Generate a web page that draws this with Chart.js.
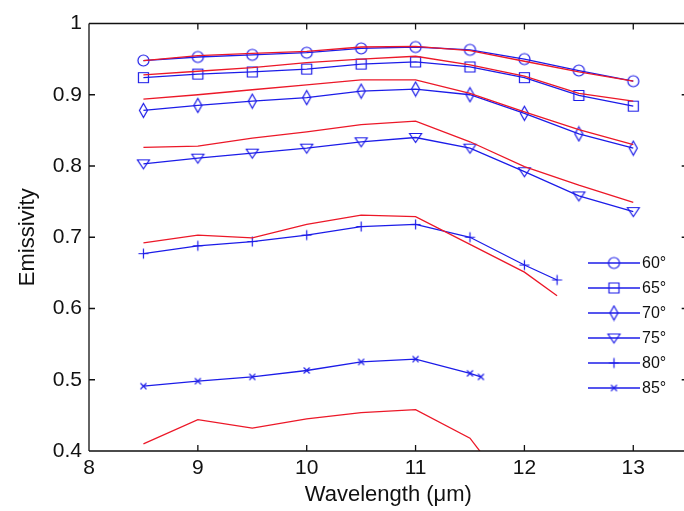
<!DOCTYPE html>
<html>
<head>
<meta charset="utf-8">
<script src="https://cdn.jsdelivr.net/npm/chart.js@4/dist/chart.umd.min.js"></script>
<style>
  html, body { margin: 0; padding: 0; background: #fff; overflow: hidden; }
  canvas { display: block; }
</style>
</head>
<body>
<canvas id="emissivityChart" width="694" height="511"></canvas>
<script>
// wavelengths (um) for each angle
const wavelengths = [8.5, 9, 9.5, 10, 10.5, 11, 11.5, 12, 12.5, 13];
const wavelengths80 = [8.5, 9, 9.5, 10, 10.5, 11, 11.5, 12, 12.3];
const wavelengths85 = [8.5, 9, 9.5, 10, 10.5, 11, 11.5, 11.6];

// blue series (with markers)
const measured60 = [0.948, 0.953, 0.956, 0.959, 0.965, 0.967, 0.963, 0.950, 0.934, 0.919];
const measured65 = [0.924, 0.929, 0.932, 0.936, 0.943, 0.946, 0.939, 0.924, 0.899, 0.884];
const measured70 = [0.878, 0.885, 0.891, 0.896, 0.905, 0.908, 0.900, 0.874, 0.845, 0.825];
const measured75 = [0.803, 0.811, 0.818, 0.825, 0.834, 0.840, 0.825, 0.792, 0.758, 0.736];
const measured80 = [0.677, 0.688, 0.694, 0.703, 0.715, 0.718, 0.700, 0.661, 0.640];
const measured85 = [0.491, 0.498, 0.504, 0.513, 0.525, 0.529, 0.509, 0.504];

// red series (plain lines)
const model60 = [0.948, 0.955, 0.958, 0.961, 0.967, 0.968, 0.962, 0.947, 0.932, 0.919];
const model65 = [0.928, 0.933, 0.938, 0.945, 0.950, 0.954, 0.942, 0.926, 0.902, 0.891];
const model70 = [0.894, 0.900, 0.907, 0.914, 0.921, 0.921, 0.902, 0.876, 0.851, 0.830];
const model75 = [0.826, 0.828, 0.839, 0.848, 0.858, 0.863, 0.834, 0.799, 0.773, 0.749];
const model80 = [0.692, 0.703, 0.699, 0.718, 0.731, 0.729, 0.690, 0.651, 0.618];
const model85 = [0.410, 0.444, 0.432, 0.445, 0.454, 0.458, 0.418, 0.398];

const angleLabels = ['60°', '65°', '70°', '75°', '80°', '85°'];
const xTicks = [8, 9, 10, 11, 12, 13];
const yTicks = [0.4, 0.5, 0.6, 0.7, 0.8, 0.9, 1];

const BLUE = 'rgb(28,28,232)';
const RED = 'rgb(236,24,40)';

// matlab style markers, drawn once into small canvases
function makeMarker(kind) {
    var c = document.createElement('canvas');
    c.width = 17; c.height = 17;
    var g = c.getContext('2d');
    g.strokeStyle = BLUE;
    g.lineWidth = 1.2;
    g.translate(8.5, 8.5);
    g.beginPath();
    if (kind === 'circle') {
        g.arc(0, 0, 5.5, 0, Math.PI * 2);
    } else if (kind === 'square') {
        g.rect(-5, -5, 10, 10);
    } else if (kind === 'diamond') {
        g.moveTo(0, -7); g.lineTo(4, 0); g.lineTo(0, 7); g.lineTo(-4, 0); g.closePath();
    } else if (kind === 'triangle') {
        g.moveTo(-6, -4); g.lineTo(6, -4); g.lineTo(0, 5); g.closePath();
    } else if (kind === 'plus') {
        g.moveTo(-5, 0); g.lineTo(5, 0); g.moveTo(0, -5); g.lineTo(0, 5);
    } else if (kind === 'x') {
        g.moveTo(-3, -3); g.lineTo(3, 3); g.moveTo(-3, 3); g.lineTo(3, -3);
    }
    g.stroke();
    return c;
}
const markers = ['circle', 'square', 'diamond', 'triangle', 'plus', 'x'].map(makeMarker);

function pts(xs, ys) {
    return xs.map(function(x, i) { return {x: x, y: ys[i]}; });
}

const measuredSets = [
    [wavelengths, measured60], [wavelengths, measured65], [wavelengths, measured70],
    [wavelengths, measured75], [wavelengths80, measured80], [wavelengths85, measured85]
];
const modelSets = [
    [wavelengths, model60], [wavelengths, model65], [wavelengths, model70],
    [wavelengths, model75], [wavelengths80, model80], [wavelengths85, model85]
];

var datasets = [];
modelSets.forEach(function(s) {
    datasets.push({
        data: pts(s[0], s[1]),
        borderColor: RED,
        borderWidth: 1.3,
        pointRadius: 0,
        order: 0
    });
});
measuredSets.forEach(function(s, i) {
    datasets.push({
        label: angleLabels[i],
        data: pts(s[0], s[1]),
        borderColor: BLUE,
        borderWidth: 1.3,
        pointStyle: markers[i],
        pointRadius: 5,
        marker: markers[i],
        order: 1
    });
});

// box, inward ticks and legend like matlab
const matlabFrame = {
    id: 'matlabFrame',
    afterDraw: function(chart) {
        var ctx = chart.ctx;
        var a = chart.chartArea;
        var xs = chart.scales.x, ys = chart.scales.y;
        ctx.save();
        ctx.strokeStyle = '#111';
        ctx.lineWidth = 1.3;
        ctx.beginPath();
        ctx.moveTo(a.left, a.top); ctx.lineTo(a.right, a.top);
        ctx.moveTo(a.left, a.top); ctx.lineTo(a.left, a.bottom);
        ctx.moveTo(a.left, a.bottom); ctx.lineTo(a.right, a.bottom);
        ctx.moveTo(a.right, a.top); ctx.lineTo(a.right, a.bottom);
        xTicks.forEach(function(v) {
            var px = xs.getPixelForValue(v);
            ctx.moveTo(px, a.bottom); ctx.lineTo(px, a.bottom - 6);
            ctx.moveTo(px, a.top); ctx.lineTo(px, a.top + 6);
        });
        yTicks.forEach(function(v) {
            var py = ys.getPixelForValue(v);
            ctx.moveTo(a.left, py); ctx.lineTo(a.left + 6, py);
            ctx.moveTo(a.right, py); ctx.lineTo(a.right - 6, py);
        });
        ctx.stroke();

        // legend
        var lx = 588, ly = 263;
        ctx.font = '16px "Liberation Sans", Arial, sans-serif';
        ctx.textBaseline = 'middle';
        ctx.fillStyle = '#111';
        chart.data.datasets.filter(function(d) { return d.label; }).forEach(function(d, i) {
            var y = ly + i * 25;
            ctx.strokeStyle = BLUE;
            ctx.lineWidth = 1.3;
            ctx.beginPath();
            ctx.moveTo(lx, y); ctx.lineTo(lx + 52, y);
            ctx.stroke();
            ctx.drawImage(d.marker, lx + 26 - 8.5, y - 8.5);
            ctx.fillText(d.label, lx + 54, y + 1);
        });
        ctx.restore();
    }
};

new Chart(document.getElementById('emissivityChart'), {
    type: 'line',
    data: { datasets: datasets },
    options: {
        responsive: false,
        animation: false,
        layout: { padding: { top: 23.5, right: 0, left: 0, bottom: 0 } },
        plugins: {
            legend: { display: false },
            tooltip: { enabled: false }
        },
        scales: {
            x: {
                type: 'linear',
                min: 8,
                max: 13.5,
                afterFit: function(scale) { scale.height = 60; },
                afterBuildTicks: function(scale) {
                    scale.ticks = xTicks.map(function(v) { return {value: v}; });
                },
                grid: { display: false, drawTicks: false },
                border: { display: false },
                ticks: {
                    padding: 5,
                    color: '#111',
                    font: { family: '"Liberation Sans", Arial, sans-serif', size: 21 },
                    maxRotation: 0
                },
                title: {
                    display: true,
                    text: 'Wavelength (\u03bcm)',
                    color: '#111',
                    font: { family: '"Liberation Sans", Arial, sans-serif', size: 22 },
                    padding: { top: 0, bottom: 3 }
                }
            },
            y: {
                type: 'linear',
                min: 0.4,
                max: 1,
                afterFit: function(scale) { scale.width = 89; },
                afterBuildTicks: function(scale) {
                    scale.ticks = yTicks.map(function(v) { return {value: v}; });
                },
                grid: { display: false, drawTicks: false },
                border: { display: false },
                ticks: {
                    padding: 7,
                    color: '#111',
                    font: { family: '"Liberation Sans", Arial, sans-serif', size: 21 },
                    callback: function(v) { return String(+v.toFixed(1)); }
                },
                title: {
                    display: true,
                    text: 'Emissivity',
                    color: '#111',
                    font: { family: '"Liberation Sans", Arial, sans-serif', size: 22 },
                    padding: { top: 15, bottom: 0 }
                }
            }
        }
    },
    plugins: [matlabFrame]
});
</script>
</body>
</html>
